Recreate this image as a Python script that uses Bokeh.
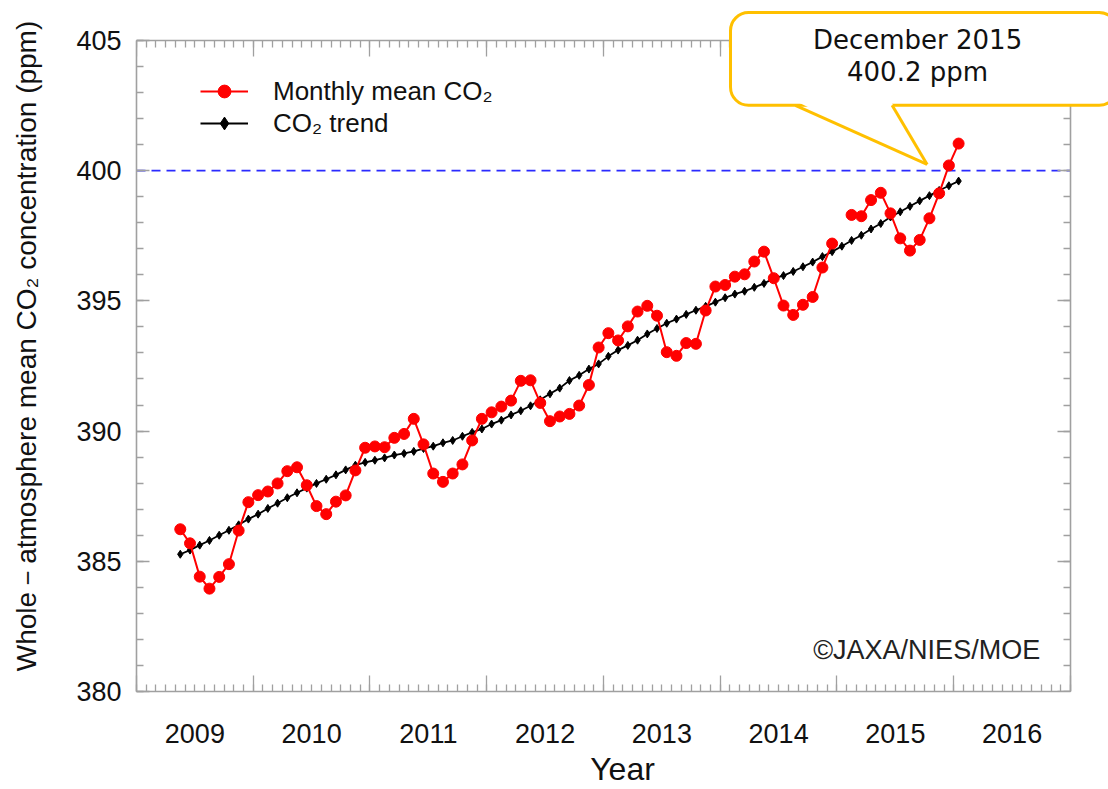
import numpy as np
import pandas as pd
from bokeh.plotting import figure
from bokeh.models import (Range1d, FixedTicker, LinearAxis, Legend, LegendItem,
                          Label, BoxAnnotation, PolyAnnotation, Arrow, ColumnDataSource)
from bokeh.embed import file_html
from bokeh.resources import INLINE

# ---------------- data ----------------
start_year, start_month = 2009, 5          # first month: May 2009, last: Jan 2016
monthly_co2 = [
    386.23, 385.69, 384.41, 383.95, 384.40, 384.89, 386.18, 387.27,            # 2009 May-Dec
    387.54, 387.68, 387.99, 388.46, 388.61, 387.92, 387.12, 386.81, 387.29, 387.53, 388.49, 389.36,  # 2010
    389.41, 389.38, 389.74, 389.89, 390.47, 389.49, 388.37, 388.05, 388.37, 388.72, 389.64, 390.47,  # 2011
    390.72, 390.94, 391.17, 391.93, 391.95, 391.08, 390.38, 390.56, 390.66, 390.98, 391.77, 393.21,  # 2012
    393.76, 393.48, 394.02, 394.59, 394.81, 394.43, 393.03, 392.89, 393.38, 393.35, 394.63, 395.55,  # 2013
    395.61, 395.93, 396.02, 396.51, 396.89, 395.87, 394.82, 394.46, 394.85, 395.15, 396.28, 397.20,  # 2014
    np.nan, 398.30, 398.25, 398.87, 399.15, 398.36, 397.40, 396.93, 397.34, 398.17, 399.13, 400.20,  # 2015
    401.04,                                                                                            # 2016 Jan
]
trend_co2 = [
    385.27, 385.43, 385.62, 385.80, 386.00, 386.19, 386.40, 386.62,
    386.81, 387.03, 387.23, 387.44, 387.63, 387.81, 387.99, 388.15, 388.32, 388.51, 388.69, 388.80,
    388.88, 388.97, 389.08, 389.14, 389.22, 389.33, 389.42, 389.55, 389.64, 389.80, 389.95, 390.08,
    390.27, 390.42, 390.62, 390.78, 390.97, 391.20, 391.43, 391.65, 391.94, 392.14, 392.38, 392.58,
    392.87, 393.11, 393.29, 393.49, 393.73, 393.94, 394.14, 394.30, 394.48, 394.64, 394.79, 394.95,
    395.12, 395.26, 395.37, 395.52, 395.67, 395.86, 395.97, 396.13, 396.31, 396.49, 396.70, 396.89,
    397.10, 397.32, 397.52, 397.76, 397.97, 398.22, 398.42, 398.63, 398.84, 399.04, 399.24, 399.42,
    399.60,
]
year_labels = ["2009", "2010", "2011", "2012", "2013", "2014", "2015", "2016"]
y_major_ticks = [380, 385, 390, 395, 400, 405]
reference_level = 400
callout_lines = ["December 2015", "400.2 ppm"]
copyright_text = "©JAXA/NIES/MOE"

n = len(monthly_co2)
months = pd.date_range(f"{start_year}-{start_month:02d}-01", periods=n, freq="MS")
xdec = np.asarray(months.year + (months.month - 0.5) / 12.0, dtype=float)

src = ColumnDataSource(dict(x=xdec, co2=np.array(monthly_co2, dtype=float),
                            trend=np.array(trend_co2, dtype=float)))

GREY = "#a0a0a0"
FONT = "Liberation Sans"

first_year = int(year_labels[0])
n_years = len(year_labels)
x_lo, x_hi = first_year, first_year + n_years
y_lo, y_hi = y_major_ticks[0], y_major_ticks[-1]

# frame extends over the top/right margins so the callout can be drawn there;
# the visible box is made of axes bounded to the data area
p = figure(width=1108, height=789,
           x_range=Range1d(x_lo, 2017.3255), y_range=Range1d(y_lo, 406.534),
           output_backend="svg", toolbar_location=None,
           min_border_left=136, min_border_right=0, min_border_top=0, min_border_bottom=97,
           background_fill_color="white", border_fill_color="white")
p.xgrid.visible = False
p.ygrid.visible = False
p.outline_line_color = None

year_edges = list(range(x_lo, x_hi + 1))
month_edges = [x_lo + i / 12.0 for i in range(n_years * 12 + 1)]
x_tick_ticker = FixedTicker(ticks=year_edges, minor_ticks=month_edges)
y_ticker = FixedTicker(ticks=y_major_ticks, minor_ticks=list(range(y_lo, y_hi + 1)))


def tick_only(ax, major_len):
    ax.axis_line_color = GREY
    ax.axis_line_width = 1.6
    ax.major_tick_line_color = GREY
    ax.minor_tick_line_color = GREY
    ax.major_tick_line_width = 1.3
    ax.minor_tick_line_width = 1.3
    ax.major_tick_in = major_len
    ax.major_tick_out = 0
    ax.minor_tick_in = 7
    ax.minor_tick_out = 0


def no_labels(ax):
    ax.major_label_text_font_size = "0px"
    ax.major_label_text_color = None
    ax.major_label_standoff = 0


# bottom tick axis (no labels)
xb = p.below[0]
xb.ticker = x_tick_ticker
xb.bounds = (x_lo, x_hi)
tick_only(xb, 16)
no_labels(xb)

# bottom label axis (labels at mid-year)
mid_years = [x_lo + i + 0.5 for i in range(n_years)]
xl = LinearAxis(ticker=FixedTicker(ticks=mid_years, minor_ticks=[]),
                major_label_overrides={m: lab for m, lab in zip(mid_years, year_labels)},
                bounds=(x_lo, x_hi))
xl.axis_line_color = None
xl.major_tick_line_color = None
xl.minor_tick_line_color = None
xl.major_label_standoff = 26
xl.major_label_text_font = FONT
xl.major_label_text_font_size = "27px"
xl.major_label_text_color = "#111111"
xl.axis_label = "Year"
xl.axis_label_text_font = FONT
xl.axis_label_text_font_size = "32px"
xl.axis_label_text_font_style = "normal"
xl.axis_label_text_color = "#111111"
xl.axis_label_standoff = 5
p.add_layout(xl, "below")

# top axis at the top of the data box
xt = LinearAxis(ticker=x_tick_ticker, fixed_location=y_hi, bounds=(x_lo, x_hi))
tick_only(xt, 16)
no_labels(xt)
p.add_layout(xt, "above")

# left axis
yl = p.left[0]
yl.ticker = y_ticker
yl.bounds = (y_lo, y_hi)
tick_only(yl, 13)
yl.major_label_standoff = 15
yl.major_label_text_font = FONT
yl.major_label_text_font_size = "27px"
yl.major_label_text_color = "#111111"
yl.axis_label = "Whole－atmosphere mean CO₂ concentration (ppm)"
yl.axis_label_text_font = FONT
yl.axis_label_text_font_size = "28px"
yl.axis_label_text_font_style = "normal"
yl.axis_label_text_color = "#111111"
yl.axis_label_standoff = 31

# right axis at the right of the data box
yr = LinearAxis(ticker=y_ticker, fixed_location=x_hi, bounds=(y_lo, y_hi))
tick_only(yr, 13)
no_labels(yr)
p.add_layout(yr, "right")

# 400 ppm reference line
p.add_layout(Arrow(end=None, x_start=x_lo, x_end=x_hi, y_start=reference_level,
                   y_end=reference_level, line_color="#2a2aff", line_width=1.6,
                   line_dash="9 6", level="underlay"))

# data
tl = p.line("x", "trend", source=src, line_color="black", line_width=1.8)
ts = p.scatter("x", "trend", source=src, marker="diamond", size=8, color="black")
ml = p.line("x", "co2", source=src, line_color="red", line_width=2)
ms = p.scatter("x", "co2", source=src, marker="circle", size=11, color="red")

legend = Legend(items=[LegendItem(label="Monthly mean CO₂", renderers=[ml, ms]),
                       LegendItem(label="CO₂ trend", renderers=[tl, ts])],
                location=(64, 552), glyph_width=48, glyph_height=32, label_height=32,
                spacing=0, padding=0, margin=0, label_standoff=25,
                border_line_color=None, background_fill_alpha=0,
                label_text_font=FONT, label_text_font_size="26px", label_text_color="#111111")
p.add_layout(legend)

# copyright
p.add_layout(Label(x=2016.74, y=381.59, text=copyright_text, text_align="right",
                   text_baseline="middle", text_font=FONT, text_font_size="27px",
                   text_color="#222222"))

# callout
CALL = "#FFC000"
box_l, box_r, box_t, box_b = 2014.088, 2017.40, 406.07, 402.51
ptr_l, ptr_r, tip_x, tip_y = 2014.643, 2015.472, 2015.772, 400.24
p.add_layout(BoxAnnotation(left=box_l, right=box_r, top=box_t, bottom=box_b,
                           fill_color="white", fill_alpha=1.0, line_color=CALL,
                           line_alpha=1.0, line_width=3, border_radius=18))
p.add_layout(PolyAnnotation(xs=[ptr_l + 0.01, tip_x, ptr_r - 0.01],
                            ys=[box_b + 0.15, tip_y, box_b + 0.15],
                            fill_color="white", fill_alpha=1.0, line_color=None))
p.add_layout(Arrow(end=None, x_start=ptr_l, y_start=box_b, x_end=tip_x, y_end=tip_y,
                   line_color=CALL, line_width=3))
p.add_layout(Arrow(end=None, x_start=ptr_r, y_start=box_b, x_end=tip_x, y_end=tip_y,
                   line_color=CALL, line_width=3))
p.add_layout(Label(x=2015.69, y=405.0, text=callout_lines[0], text_align="center",
                   text_baseline="middle", text_font="DejaVu Sans", text_font_size="26px",
                   text_color="#111111"))
p.add_layout(Label(x=2015.69, y=403.77, text=callout_lines[1], text_align="center",
                   text_baseline="middle", text_font="DejaVu Sans", text_font_size="26px",
                   text_color="#111111"))

open("out.html", "w").write(file_html(p, INLINE))
